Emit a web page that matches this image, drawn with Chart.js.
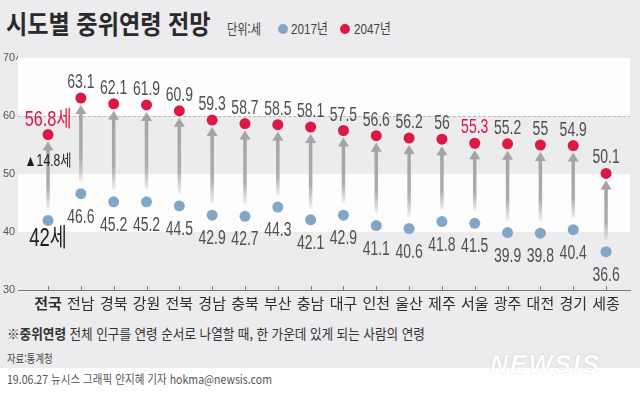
<!DOCTYPE html>
<html lang="ko">
<head>
<meta charset="utf-8">
<script src="https://cdn.jsdelivr.net/npm/chart.js@4/dist/chart.umd.min.js"></script>
<style>
  html, body { margin: 0; padding: 0; }
  body { width: 640px; height: 393px; position: relative; overflow: hidden;
         background: #ecebed; font-family: "Noto Sans CJK KR", sans-serif; color: #333; }
  .abs { position: absolute; white-space: nowrap; line-height: 1; transform-origin: left center; }
  #chartBox { position: absolute; left: 0; top: 0; width: 640px; height: 320px; }
  #strip { position: absolute; left: 0; top: 368px; width: 640px; height: 25px; background: #fff; }
  .dot { position: absolute; width: 10px; height: 10px; border-radius: 50%; }
</style>
</head>
<body>
<div id="strip"></div>

<div class="abs" style="left:6px;top:10px;font-size:26px;font-weight:bold;color:#2a2a2a;transform:scaleX(.89)">시도별 중위연령 전망</div>
<div class="abs" style="left:227px;top:21px;font-size:14px;color:#444;transform:scaleX(.8)">단위:세</div>
<div class="dot" style="left:278px;top:24px;background:#82a6c6"></div>
<div class="abs" style="left:291px;top:21px;font-size:15px;color:#444;font-family:'Liberation Sans','Noto Sans CJK KR';transform:scaleX(.78)">2017년</div>
<div class="dot" style="left:340px;top:24px;background:#dc1844"></div>
<div class="abs" style="left:354px;top:21px;font-size:15px;color:#444;font-family:'Liberation Sans','Noto Sans CJK KR';transform:scaleX(.78)">2047년</div>

<div id="chartBox"><canvas id="chart" width="640" height="320"></canvas></div>

<div class="abs" style="left:7px;top:326px;font-size:14px;color:#333;transform:scaleX(.9)">※<b>중위연령</b> 전체 인구를 연령 순서로 나열할 때, 한 가운데 있게 되는 사람의 연령</div>
<div class="abs" style="left:7px;top:353px;font-size:11px;color:#444;transform:scaleX(.85)">자료:통계청</div>
<div class="abs" style="left:490px;top:352px;font-size:25px;font-weight:bold;font-style:italic;letter-spacing:2px;color:#fff;font-family:'Liberation Sans';text-shadow:0 0 2px rgba(0,0,0,.18)">NEWSIS</div>
<div class="abs" style="left:7px;top:373px;font-size:12px;color:#555;transform:scaleX(.88)">19.06.27 뉴시스 그래픽 안지혜 기자 hokma@newsis.com</div>

<script>
// ── Data ───────────────────────────────────────────────────────
const regions = ["전국", "전남", "경북", "강원", "전북", "경남", "충북", "부산", "충남",
                 "대구", "인천", "울산", "제주", "서울", "광주", "대전", "경기", "세종"];
const age2017 = [42, 46.6, 45.2, 45.2, 44.5, 42.9, 42.7, 44.3, 42.1,
                 42.9, 41.1, 40.6, 41.8, 41.5, 39.9, 39.8, 40.4, 36.6];
const age2047 = [56.8, 63.1, 62.1, 61.9, 60.9, 59.3, 58.7, 58.5, 58.1,
                 57.5, 56.6, 56.2, 56, 55.3, 55.2, 55, 54.9, 50.1];
const yTicks = [30, 40, 50, 60, 70];

// ── Palette ────────────────────────────────────────────────────
const COLORS = {
  red:   "#dc1844",
  blue:  "#82a6c6",
  arrow: "#a4a4a4",
  label: "#4f4f4f",
  band:  "#fdfdfd",
  axis:  "#7a7a7a",
};
const NUMFONT = "'Liberation Sans', 'Noto Sans CJK KR', sans-serif";

// condensed text helper
function squeezeText(ctx, str, x, y, size, color, sx = 0.7, weight = "normal") {
  ctx.save();
  ctx.translate(x, y);
  ctx.scale(sx, 1);
  ctx.font = `${weight} ${size}px ${NUMFONT}`;
  ctx.fillStyle = color;
  ctx.textAlign = "center";
  ctx.textBaseline = "alphabetic";
  ctx.fillText(str, 0, 0);
  ctx.restore();
}

const decor = {
  id: "decor",
  beforeDraw(chart) {
    const { ctx, chartArea: a, scales: { y } } = chart;
    ctx.save();
    ctx.fillStyle = COLORS.band;
    ctx.fillRect(a.left, y.getPixelForValue(70), a.right - a.left, y.getPixelForValue(60) - y.getPixelForValue(70));
    ctx.fillRect(a.left, y.getPixelForValue(50), a.right - a.left, y.getPixelForValue(40) - y.getPixelForValue(50));
    // dashed 60 line
    ctx.strokeStyle = "#bdbdbd";
    ctx.lineWidth = 1;
    ctx.setLineDash([3, 2]);
    const y60 = Math.round(y.getPixelForValue(60)) + 0.5;
    ctx.beginPath(); ctx.moveTo(a.left, y60); ctx.lineTo(a.right, y60); ctx.stroke();
    ctx.restore();
  },
  beforeDatasetsDraw(chart) {
    const { ctx, scales: { x, y } } = chart;
    ctx.save();
    regions.forEach((_, i) => {
      const px = x.getPixelForValue(i);
      const yr = y.getPixelForValue(age2047[i]);
      const yb = y.getPixelForValue(age2017[i]);
      const tip = yr + 7, headH = 9, headW = 5.5;
      const bottom = yb - 12;
      const g = ctx.createLinearGradient(0, tip + headH, 0, bottom);
      g.addColorStop(0, COLORS.arrow);
      g.addColorStop(0.65, "rgba(164,164,164,0.9)");
      g.addColorStop(1, "rgba(164,164,164,0.15)");
      ctx.fillStyle = g;
      ctx.fillRect(px - 1.75, tip + headH - 1, 3.5, bottom - tip - headH + 1);
      ctx.fillStyle = COLORS.arrow;
      ctx.beginPath();
      ctx.moveTo(px, tip);
      ctx.lineTo(px + headW, tip + headH);
      ctx.lineTo(px - headW, tip + headH);
      ctx.closePath();
      ctx.fill();
    });
    ctx.restore();
  },
  afterDatasetsDraw(chart) {
    const { ctx, chartArea: a, scales: { x, y } } = chart;
    // tick marks pointing up from the axis line
    ctx.save();
    ctx.strokeStyle = COLORS.axis;
    ctx.lineWidth = 1;
    regions.forEach((_, i) => {
      const px = Math.round(x.getPixelForValue(i)) + 0.5;
      ctx.beginPath(); ctx.moveTo(px, a.bottom); ctx.lineTo(px, a.bottom - 4); ctx.stroke();
    });
    ctx.restore();

    regions.forEach((_, i) => {
      const px = x.getPixelForValue(i);
      const yr = y.getPixelForValue(age2047[i]);
      const yb = y.getPixelForValue(age2017[i]);
      if (i === 0) {
        squeezeText(ctx, age2047[i] + "세", px, yr - 9, 22, COLORS.red, 0.74);
        squeezeText(ctx, age2017[i] + "세", px, yb + 26, 25, "#1e1e1e", 0.74);
        const diff = (age2047[i] - age2017[i]).toFixed(1);
        squeezeText(ctx, "▲" + diff + "세", px, y.getPixelForValue(51.3), 16, "#1e1e1e", 0.76);
        return;
      }
      squeezeText(ctx, String(age2047[i]), px, yr - 10, 20, regions[i] === "서울" ? COLORS.red : COLORS.label);
      squeezeText(ctx, String(age2017[i]), px, yb + 29, 20, COLORS.label);
    });
  },
};

new Chart(document.getElementById("chart"), {
  type: "scatter",
  data: {
    datasets: [
      {
        label: "2017년",
        data: age2017.map((v, i) => ({ x: i, y: v })),
        backgroundColor: COLORS.blue,
        borderWidth: 0,
        pointRadius: 5.5,
      },
      {
        label: "2047년",
        data: age2047.map((v, i) => ({ x: i, y: v })),
        backgroundColor: COLORS.red,
        borderWidth: 0,
        pointRadius: 5.5,
      },
    ],
  },
  options: {
    responsive: false,
    animation: false,
    layout: { padding: { top: 58, left: 3, right: 10, bottom: 0 } },
    plugins: { legend: { display: false }, tooltip: { enabled: false } },
    scales: {
      x: {
        type: "linear",
        min: -0.915,
        max: 17.73,
        afterBuildTicks: s => { s.ticks = regions.map((_, i) => ({ value: i })); },
        afterFit: s => { s.height = 30; },
        grid: { display: false, drawTicks: false },
        border: { display: true, color: COLORS.axis, width: 1 },
        ticks: {
          padding: 4,
          autoSkip: false,
          maxRotation: 0,
          color: "#2e2e2e",
          callback: v => regions[v],
          font: c => ({ family: "'Noto Sans CJK KR', sans-serif", size: 15, weight: c.index === 0 ? "bold" : "normal" }),
        },
      },
      y: {
        min: 30,
        max: 70,
        afterBuildTicks: s => { s.ticks = yTicks.map(v => ({ value: v })); },
        afterFit: s => { s.width = 15; },
        grid: { display: false, drawTicks: false },
        border: { display: false },
        ticks: {
          crossAlign: "far",
          padding: 0,
          color: "#555",
          font: { family: NUMFONT, size: 11 },
          callback: v => (v === 70 ? "70세" : String(v)),
        },
      },
    },
  },
  plugins: [decor],
});
</script>
</body>
</html>
